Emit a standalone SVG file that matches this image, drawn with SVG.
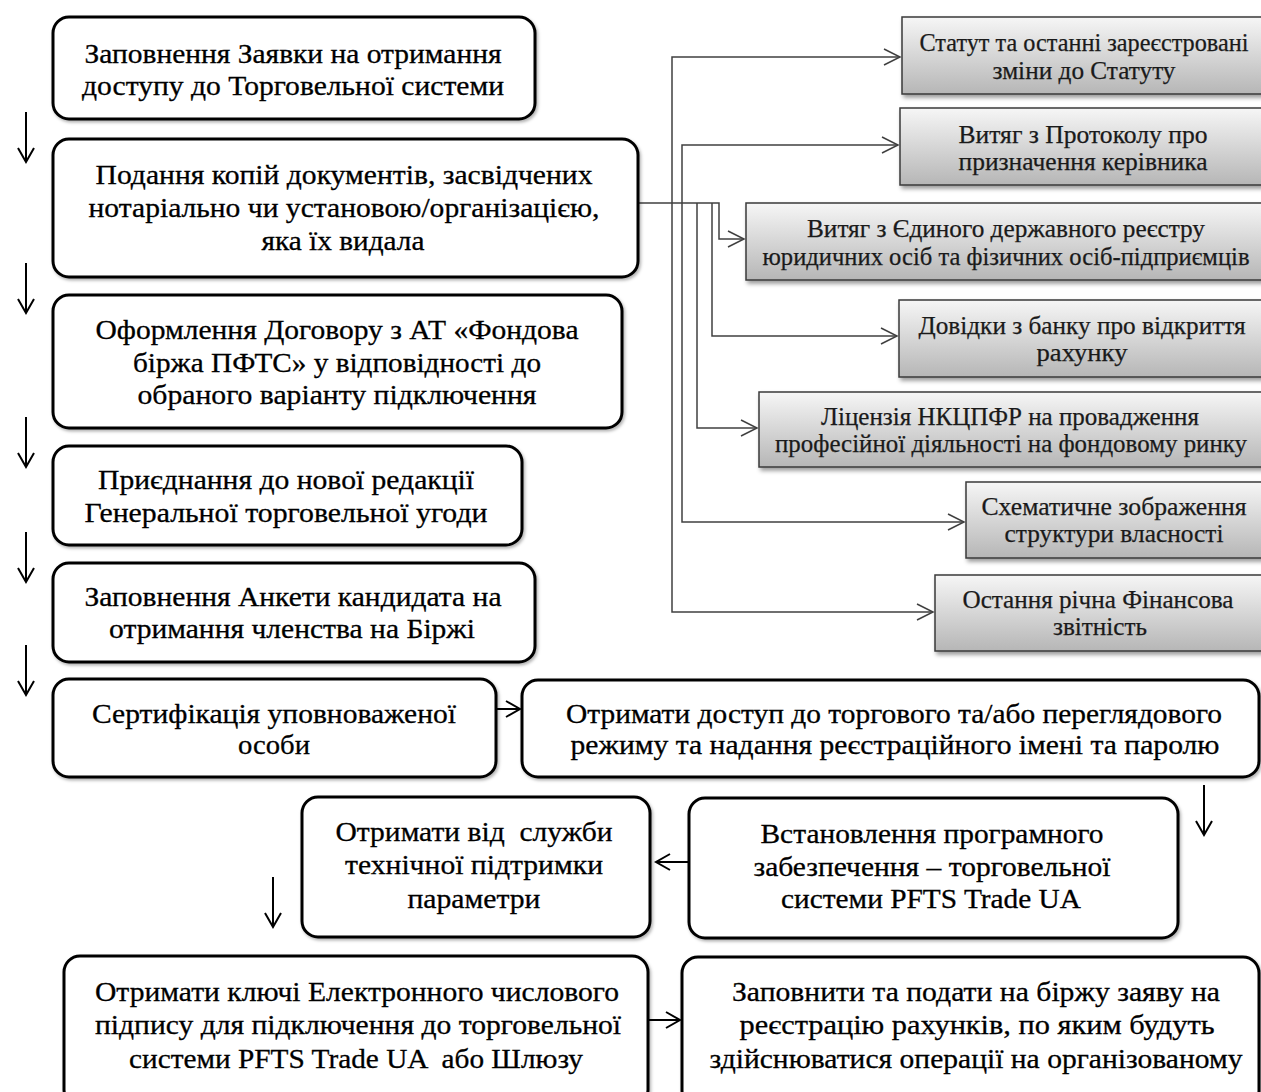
<svg xmlns="http://www.w3.org/2000/svg" width="1261" height="1092" viewBox="0 0 1261 1092">
<defs>
<style>
.box{fill:#fff;stroke:#000;stroke-width:3;filter:url(#sh)}
.gbox{fill:url(#gg);stroke:#3a3a3a;stroke-width:1.5;filter:url(#gsh)}
.t{font-family:"Liberation Serif","Times New Roman",serif;font-size:28px;fill:#000;stroke:#000;stroke-width:0.3;text-anchor:middle}
.g{font-family:"Liberation Serif","Times New Roman",serif;font-size:25px;fill:#1a1a1a;stroke:#1a1a1a;stroke-width:0.25;text-anchor:middle}
.fl{fill:none;stroke:#000;stroke-width:2;marker-end:url(#ah)}
.cn{fill:none;stroke:#404040;stroke-width:1.5}
.ca{marker-end:url(#ag)}
</style>
<linearGradient id="gg" x1="0" y1="0" x2="0" y2="1">
<stop offset="0" stop-color="#f6f6f6"/>
<stop offset="1" stop-color="#b6b6b6"/>
</linearGradient>
<filter id="sh" x="-5%" y="-10%" width="110%" height="125%">
<feDropShadow dx="1.5" dy="2" stdDeviation="1.5" flood-color="#000" flood-opacity="0.3"/>
</filter>
<filter id="gsh" x="-5%" y="-10%" width="110%" height="130%">
<feDropShadow dx="2" dy="3" stdDeviation="2" flood-color="#000" flood-opacity="0.4"/>
</filter>
<marker id="ah" markerUnits="userSpaceOnUse" markerWidth="20" markerHeight="20" refX="15" refY="9" orient="auto" overflow="visible">
<path d="M1,1 L15,9 L1,17" fill="none" stroke="#000" stroke-width="2"/>
</marker>
<marker id="ag" markerUnits="userSpaceOnUse" markerWidth="20" markerHeight="20" refX="17" refY="9" orient="auto" overflow="visible">
<path d="M1,1 L17,9 L1,17" fill="none" stroke="#404040" stroke-width="1.5"/>
</marker>
</defs>
<rect width="1261" height="1092" fill="#fff"/>

<g id="connectors">
<path class="cn ca" d="M638,203 H719 V239 H744"/>
<path class="cn ca" d="M672,203 V57 H900"/>
<path class="cn ca" d="M672,203 V612 H933"/>
<path class="cn ca" d="M682,203 V145 H898"/>
<path class="cn ca" d="M682,203 V522 H964"/>
<path class="cn ca" d="M697,203 V428 H757"/>
<path class="cn ca" d="M712,203 V336 H897"/>
<path class="fl" d="M26,112 V162"/>
<path class="fl" d="M26,263 V313"/>
<path class="fl" d="M26,417 V467"/>
<path class="fl" d="M26,532 V582"/>
<path class="fl" d="M26,645 V695"/>
<path class="fl" d="M497,709 H520"/>
<path class="fl" d="M1204,785 V835"/>
<path class="fl" d="M688,862 H656"/>
<path class="fl" d="M273,877 V927"/>
<path class="fl" d="M649,1020 H680"/>
</g>

<g id="n1"><rect class="box" x="53" y="17" width="482" height="102" rx="16"/>
<text class="t" x="293" y="63" textLength="417" lengthAdjust="spacingAndGlyphs">Заповнення Заявки на отримання</text>
<text class="t" x="293" y="95" textLength="422" lengthAdjust="spacingAndGlyphs">доступу до Торговельної системи</text></g>

<g id="n2"><rect class="box" x="53" y="139" width="585" height="138" rx="16"/>
<text class="t" x="344" y="184" textLength="497" lengthAdjust="spacingAndGlyphs">Подання копій документів, засвідчених</text>
<text class="t" x="344" y="217" textLength="511" lengthAdjust="spacingAndGlyphs">нотаріально чи установою/організацією,</text>
<text class="t" x="343" y="250" textLength="163" lengthAdjust="spacingAndGlyphs">яка їх видала</text></g>

<g id="n3"><rect class="box" x="53" y="295" width="569" height="133" rx="16"/>
<text class="t" x="337" y="339" textLength="483" lengthAdjust="spacingAndGlyphs">Оформлення Договору з АТ «Фондова</text>
<text class="t" x="337" y="372" textLength="408" lengthAdjust="spacingAndGlyphs">біржа ПФТС» у відповідності до</text>
<text class="t" x="337" y="404" textLength="399" lengthAdjust="spacingAndGlyphs">обраного варіанту підключення</text></g>

<g id="n4"><rect class="box" x="53" y="446" width="469" height="99" rx="16"/>
<text class="t" x="286" y="489" textLength="376" lengthAdjust="spacingAndGlyphs">Приєднання до нової редакції</text>
<text class="t" x="286" y="522" textLength="403" lengthAdjust="spacingAndGlyphs">Генеральної торговельної угоди</text></g>

<g id="n5"><rect class="box" x="53" y="563" width="482" height="99" rx="16"/>
<text class="t" x="293" y="606" textLength="417" lengthAdjust="spacingAndGlyphs">Заповнення Анкети кандидата на</text>
<text class="t" x="292" y="638" textLength="366" lengthAdjust="spacingAndGlyphs">отримання членства на Біржі</text></g>

<g id="n6"><rect class="box" x="53" y="679" width="443" height="98" rx="16"/>
<text class="t" x="274" y="723" textLength="364" lengthAdjust="spacingAndGlyphs">Сертифікація уповноваженої</text>
<text class="t" x="274" y="754" textLength="72" lengthAdjust="spacingAndGlyphs">особи</text></g>

<g id="n7"><rect class="box" x="522" y="680" width="737" height="97" rx="16"/>
<text class="t" x="894" y="723" textLength="656" lengthAdjust="spacingAndGlyphs">Отримати доступ до торгового та/або переглядового</text>
<text class="t" x="895" y="754" textLength="649" lengthAdjust="spacingAndGlyphs">режиму та надання реєстраційного імені та паролю</text></g>

<g id="n8"><rect class="box" x="302" y="797" width="348" height="140" rx="16"/>
<text class="t" x="474" y="841" textLength="277" lengthAdjust="spacingAndGlyphs" xml:space="preserve">Отримати від  служби</text>
<text class="t" x="474" y="874" textLength="258" lengthAdjust="spacingAndGlyphs">технічної підтримки</text>
<text class="t" x="474" y="908" textLength="133" lengthAdjust="spacingAndGlyphs">параметри</text></g>

<g id="n9"><rect class="box" x="689" y="798" width="489" height="140" rx="16"/>
<text class="t" x="932" y="843" textLength="343" lengthAdjust="spacingAndGlyphs">Встановлення програмного</text>
<text class="t" x="932" y="876" textLength="357" lengthAdjust="spacingAndGlyphs">забезпечення – торговельної</text>
<text class="t" x="931" y="908" textLength="300" lengthAdjust="spacingAndGlyphs">системи PFTS Trade UA</text></g>

<g id="n10"><rect class="box" x="64" y="956" width="584" height="150" rx="16"/>
<text class="t" x="357" y="1001" textLength="524" lengthAdjust="spacingAndGlyphs">Отримати ключі Електронного числового</text>
<text class="t" x="358" y="1034" textLength="526" lengthAdjust="spacingAndGlyphs">підпису для підключення до торговельної</text>
<text class="t" x="356" y="1068" textLength="454" lengthAdjust="spacingAndGlyphs" xml:space="preserve">системи PFTS Trade UA  або Шлюзу</text></g>

<g id="n11"><rect class="box" x="682" y="957" width="577" height="150" rx="16"/>
<text class="t" x="976" y="1001" textLength="488" lengthAdjust="spacingAndGlyphs">Заповнити та подати на біржу заяву на</text>
<text class="t" x="977" y="1034" textLength="475" lengthAdjust="spacingAndGlyphs">реєстрацію рахунків, по яким будуть</text>
<text class="t" x="976" y="1068" textLength="533" lengthAdjust="spacingAndGlyphs">здійснюватися операції на організованому</text></g>

<g id="d1"><rect class="gbox" x="902" y="17" width="370" height="77"/>
<text class="g" x="1084" y="51" textLength="329" lengthAdjust="spacingAndGlyphs">Статут та останні зареєстровані</text>
<text class="g" x="1084" y="79" textLength="183" lengthAdjust="spacingAndGlyphs">зміни до Статуту</text></g>

<g id="d2"><rect class="gbox" x="900" y="108" width="372" height="77"/>
<text class="g" x="1083" y="143" textLength="249" lengthAdjust="spacingAndGlyphs">Витяг з Протоколу про</text>
<text class="g" x="1083" y="170" textLength="249" lengthAdjust="spacingAndGlyphs">призначення керівника</text></g>

<g id="d3"><rect class="gbox" x="746" y="203" width="526" height="77"/>
<text class="g" x="1006" y="237" textLength="398" lengthAdjust="spacingAndGlyphs">Витяг з Єдиного державного реєстру</text>
<text class="g" x="1006" y="265" textLength="487" lengthAdjust="spacingAndGlyphs">юридичних осіб та фізичних осіб-підприємців</text></g>

<g id="d4"><rect class="gbox" x="899" y="300" width="373" height="77"/>
<text class="g" x="1082" y="334" textLength="327" lengthAdjust="spacingAndGlyphs">Довідки з банку про відкриття</text>
<text class="g" x="1082" y="361" textLength="91" lengthAdjust="spacingAndGlyphs">рахунку</text></g>

<g id="d5"><rect class="gbox" x="759" y="392" width="513" height="75"/>
<text class="g" x="1010" y="425" textLength="378" lengthAdjust="spacingAndGlyphs">Ліцензія НКЦПФР на провадження</text>
<text class="g" x="1011" y="452" textLength="472" lengthAdjust="spacingAndGlyphs">професійної діяльності на фондовому ринку</text></g>

<g id="d6"><rect class="gbox" x="966" y="482" width="306" height="76"/>
<text class="g" x="1114" y="515" textLength="265" lengthAdjust="spacingAndGlyphs">Схематичне зображення</text>
<text class="g" x="1114" y="542" textLength="219" lengthAdjust="spacingAndGlyphs">структури власності</text></g>

<g id="d7"><rect class="gbox" x="935" y="575" width="337" height="76"/>
<text class="g" x="1098" y="608" textLength="271" lengthAdjust="spacingAndGlyphs">Остання річна Фінансова</text>
<text class="g" x="1100" y="635" textLength="94" lengthAdjust="spacingAndGlyphs">звітність</text></g>
</svg>
